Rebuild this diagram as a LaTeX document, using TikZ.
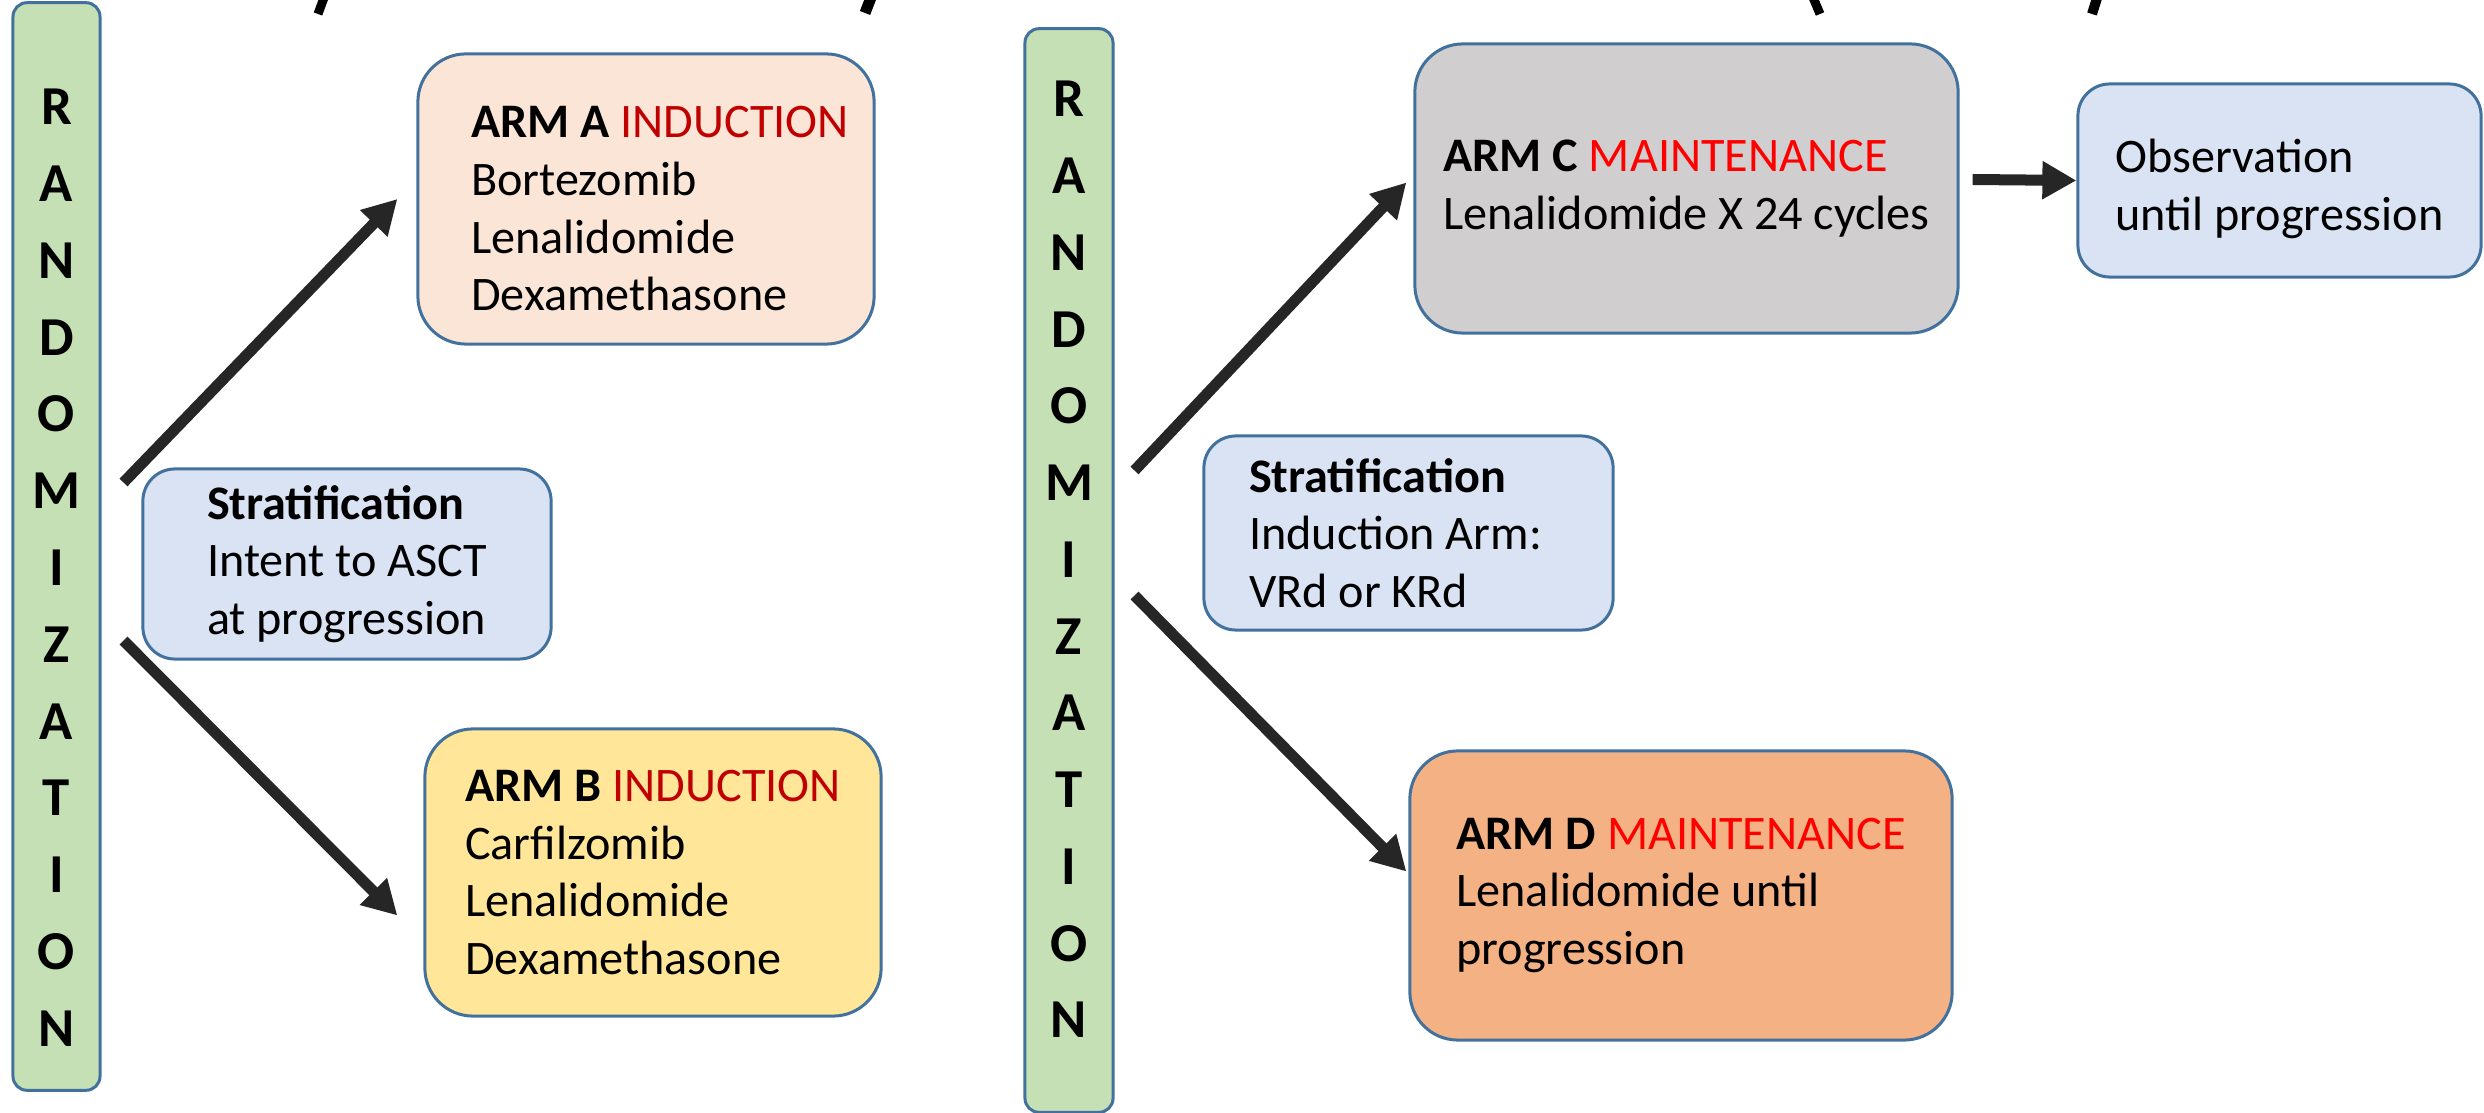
\documentclass[tikz,border=0pt]{standalone}
\usepackage{fontspec}
\setmainfont{Carlito}
\usetikzlibrary{arrows.meta,calc}

\definecolor{randgreen}{HTML}{C5E0B4}
\definecolor{boxline}{HTML}{41719C}
\definecolor{armapeach}{HTML}{FBE5D6}
\definecolor{armbyellow}{HTML}{FFE699}
\definecolor{stratblue}{HTML}{DAE3F3}
\definecolor{armcgray}{HTML}{D0CECE}
\definecolor{armdorange}{HTML}{F4B183}
\definecolor{inducred}{HTML}{C00000}
\definecolor{maintred}{HTML}{FF0000}
\definecolor{arrowgray}{HTML}{262626}

\tikzset{
  box/.style={draw=boxline, line width=0.03cm, align=left, inner sep=0pt,
    font=\fontsize{13.7}{16.4}\selectfont},
  bigbox/.style={box, rounded corners=0.48cm},
  smallbox/.style={box, rounded corners=0.32cm},
  randbar/.style={draw=boxline, fill=randgreen, line width=0.03cm,
    rounded corners=0.14cm, inner sep=0pt},
  randletter/.style={font=\fontsize{15.6}{18}\selectfont\bfseries, inner sep=0pt},
  flow/.style={draw=arrowgray, line width=0.11cm,
    -{Triangle[length=0.34cm,width=0.36cm]}},
}

\begin{document}
\begin{tikzpicture}[x=0.01cm,y=-0.01cm]
    \useasboundingbox (0,0) rectangle (2484,1113);

    % tails of the heading letters
    \draw[line width=0.09cm] (325,-5) -- (318,14);
    \draw[line width=0.11cm] (872,-5) -- (865,13);
    \draw[line width=0.09cm] (1812,-5) -- (1820,14);
    \draw[line width=0.10cm] (2098,-5) -- (2092,14);

    % randomization bars
    \node[randbar, minimum width=0.87cm, minimum height=10.87cm] (randA) at (56.5,546.5) {};
    \node[randbar, minimum width=0.88cm, minimum height=10.83cm] (randB) at (1069,570.5) {};
    \foreach \l [count=\i from 0] in {R,A,N,D,O,M,I,Z,A,T,I,O,N} {
        \node[randletter] (la\i) at (56.5,107+76.8*\i) {\l};
        \node[randletter] (lb\i) at (1069,99+76.75*\i) {\l};
    }

    % induction
    \node[bigbox, fill=armapeach, minimum width=4.56cm, minimum height=2.90cm] (armA) at (646,199)
        {\rule{0pt}{14.5pt}\textbf{ARM A} \textcolor{inducred}{INDUCTION}\hspace*{-0.28cm}\\Bortezomib\\Lenalidomide\\Dexamethasone};
    \node[bigbox, fill=armbyellow, minimum width=4.56cm, minimum height=2.87cm] (armB) at (653,872.5)
        {\textbf{ARM B} \textcolor{inducred}{INDUCTION}\\Carfilzomib\\Lenalidomide\\Dexamethasone};
    \node[smallbox, fill=stratblue, minimum width=4.08cm, minimum height=1.90cm] (stratA) at (347,564)
        {\textbf{Stratification}\\Intent to ASCT\\at progression};

    % maintenance
    \node[bigbox, fill=armcgray, minimum width=5.43cm, minimum height=2.89cm] (armC) at (1686.5,188.5)
        {\textbf{ARM C} \textcolor{maintred}{MAINTENANCE}\\Lenalidomide X 24 cycles};
    \node[smallbox, fill=stratblue, minimum width=4.03cm, minimum height=1.93cm] (obs) at (2279.5,180.5)
        {\rule{0pt}{14.2pt}Observation\\until progression};
    \node[smallbox, fill=stratblue, minimum width=4.09cm, minimum height=1.94cm] (stratB) at (1408.5,533)
        {\textbf{Stratification}\\Induction Arm:\rule{0.26cm}{0pt}\\VRd or KRd};
    \node[bigbox, fill=armdorange, minimum width=5.42cm, minimum height=2.89cm] (armD) at (1681,895.5)
        {\textbf{ARM D} \textcolor{maintred}{MAINTENANCE}\\Lenalidomide until\\progression};

    \draw[flow] ($(randA.east)+(22,-64)$) -- ($(armA.west)+(-19,0)$);
    \draw[flow] ($(randA.east)+(22,94)$) -- ($(armB.west)+(-26,43)$);
    \draw[flow] ($(randB.east)+(20,-100)$) -- ($(armC.west)+(-7,-6)$);
    \draw[flow] ($(randB.east)+(20,25)$) -- ($(armD.west)+(-2,-24)$);
    \draw[flow] ($(armC.east)+(13,-9)$) -- (obs.west);
\end{tikzpicture}
\end{document}
